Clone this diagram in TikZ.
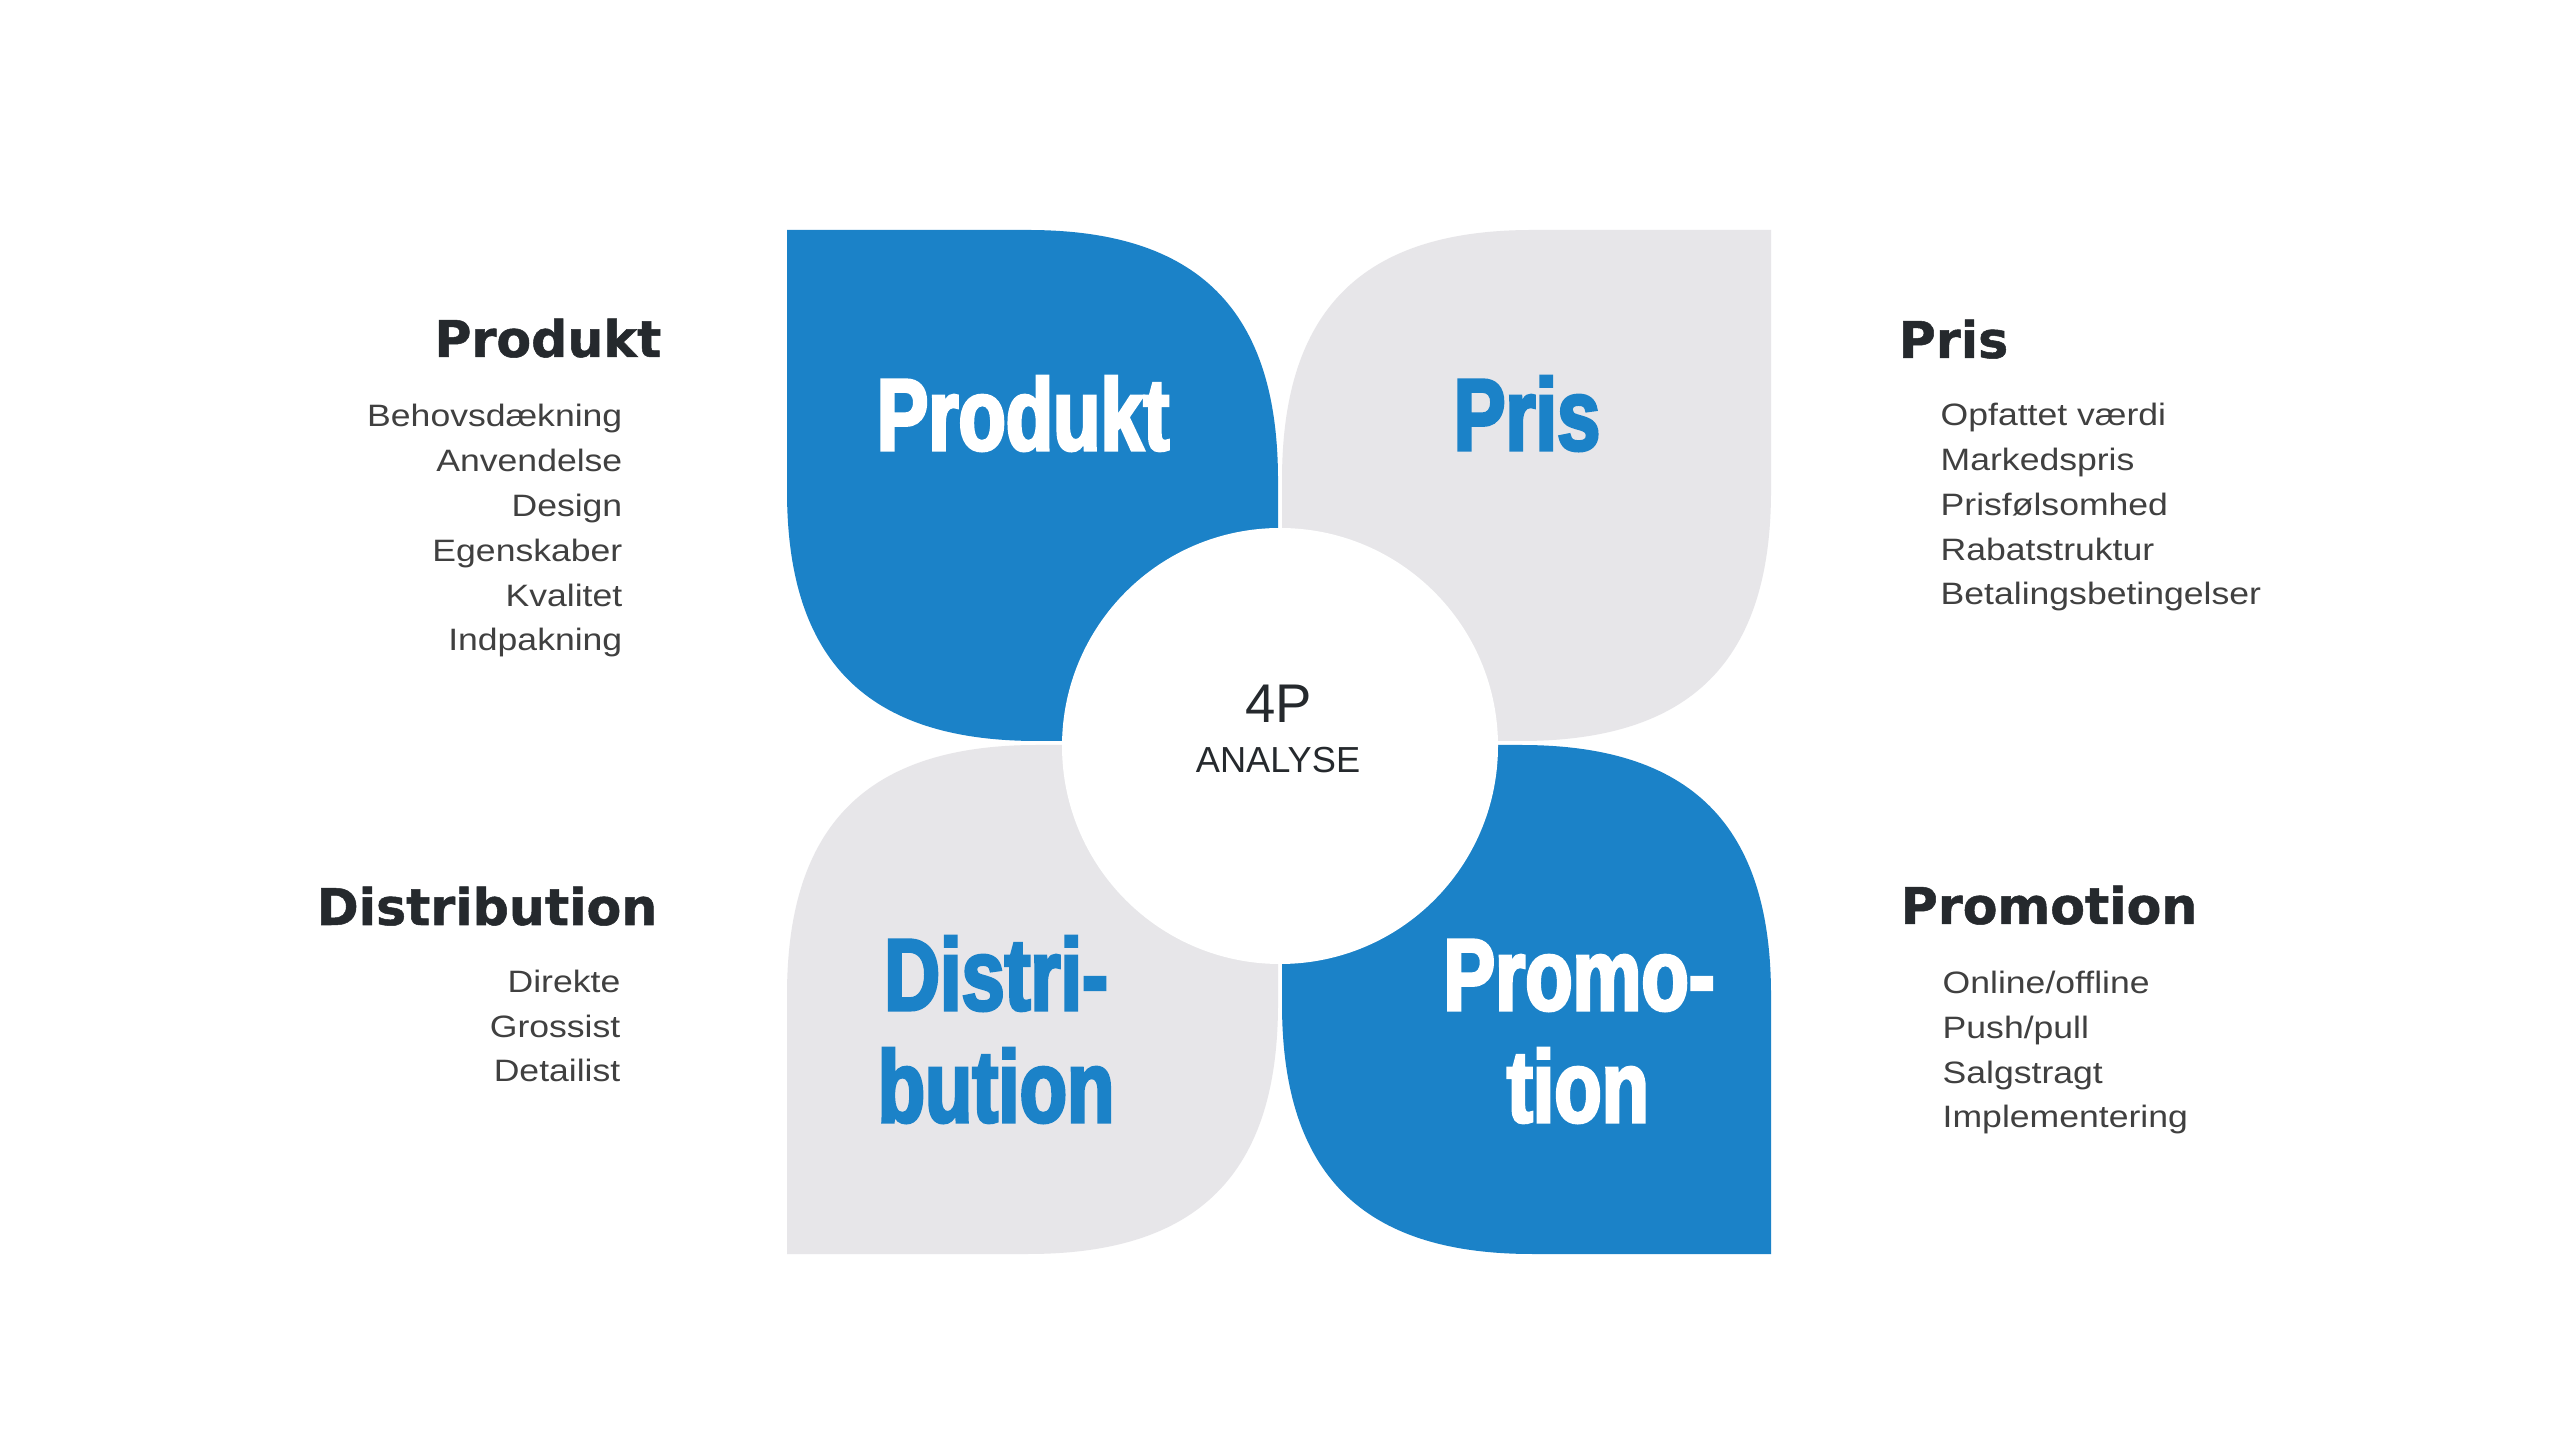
\documentclass[tikz,border=0pt]{standalone}
\usepackage{fontspec}
\usepackage{xcolor}
\usepackage{tikz}
\setmainfont{Liberation Sans}
\newfontfamily\petalfont[FakeStretch=0.76,FakeBold=3]{Liberation Sans Bold}
\newfontfamily\headfont[FakeBold=1]{DejaVu Sans Bold}
\newfontfamily\listfont[FakeStretch=1.15]{Liberation Sans}
\definecolor{petalblue}{HTML}{1B82C8}
\definecolor{petalgray}{HTML}{E7E6E9}
\definecolor{headdark}{HTML}{25292D}
\definecolor{listgray}{HTML}{404040}

\begin{document}
\begin{tikzpicture}[
  petaltext/.style={anchor=base, font=\petalfont\fontsize{29}{32}\selectfont},
  headtext/.style={font=\headfont\fontsize{14.4}{16}\selectfont, text=headdark},
  listtext/.style={font=\listfont\fontsize{8.8}{12.8}\selectfont, text=listgray}]
\tikzstyle{every node}+=[inner sep=0pt]
\fill [white] (0,0) rectangle (25.6,14.4);
\useasboundingbox (0,0) rectangle (25.6,14.4);
% petals
\fill [petalblue] (7.87,12.10) -- (10.28,12.10) .. controls (11.98,12.10) and (12.78,11.30) .. (12.78,9.60) -- (12.78,6.99) -- (10.37,6.99) .. controls (8.67,6.99) and (7.87,7.79) .. (7.87,9.49) -- cycle;
\fill [petalgray] (17.71,12.10) -- (17.71,9.49) .. controls (17.71,7.79) and (16.91,6.99) .. (15.21,6.99) -- (12.82,6.99) -- (12.82,9.60) .. controls (12.82,11.30) and (13.62,12.10) .. (15.32,12.10) -- cycle;
\fill [petalgray] (7.87,1.86) -- (7.87,4.45) .. controls (7.87,6.15) and (8.67,6.95) .. (10.37,6.95) -- (12.78,6.95) -- (12.78,4.36) .. controls (12.78,2.66) and (11.98,1.86) .. (10.28,1.86) -- cycle;
\fill [petalblue] (12.82,6.95) -- (15.21,6.95) .. controls (16.91,6.95) and (17.71,6.15) .. (17.71,4.45) -- (17.71,1.86) -- (15.32,1.86) .. controls (13.62,1.86) and (12.82,2.66) .. (12.82,4.36) -- cycle;
\fill [white] (12.80,6.94) circle (2.18);
% petal titles
\node (produkt) [petaltext, text=white] at (10.23,9.90) {Produkt};
\node (pris) [petaltext, text=petalblue] at (15.27,9.90) {Pris};
\node (distri) [petaltext, text=petalblue] at (9.96,4.30) {Distri-};
\node (bution) [petaltext, text=petalblue] at (9.96,3.18) {bution};
\node (promo) [petaltext, text=white] at (15.79,4.30) {Promo-};
\node (tion) [petaltext, text=white] at (15.78,3.18) {tion};
% center
\node (fourp) [anchor=base, font=\fontsize{15.5}{18}\selectfont, text=headdark] at (12.79,7.17) {4P};
\node (analyse) [anchor=base, font=\fontsize{10.3}{12}\selectfont, text=headdark] at (12.78,6.67) {ANALYSE};
% side headings
\node (produkthead) [headtext, anchor=base east] at (6.62,10.83) {Produkt};
\node (prishead) [headtext, anchor=base west] at (18.98,10.82) {Pris};
\node (distributionhead) [headtext, anchor=base east] at (6.58,5.15) {Distribution};
\node (promotionhead) [headtext, anchor=base west] at (19.00,5.16) {Promotion};
% lists (base = last line)
\node (produktlist) [listtext, anchor=base east, align=right] at (6.23,7.89) {Behovsdækning\\Anvendelse\\Design\\Egenskaber\\Kvalitet\\Indpakning};
\node (prislist) [listtext, anchor=base west, align=left] at (19.40,8.35) {Opfattet værdi\\Markedspris\\Prisfølsomhed\\Rabatstruktur\\Betalingsbetingelser};
\node (distributionlist) [listtext, anchor=base east, align=right] at (6.21,3.58) {Direkte\\Grossist\\Detailist};
\node (promotionlist) [listtext, anchor=base west, align=left] at (19.42,3.12) {Online/offline\\Push/pull\\Salgstragt\\Implementering};
\end{tikzpicture}
\end{document}
